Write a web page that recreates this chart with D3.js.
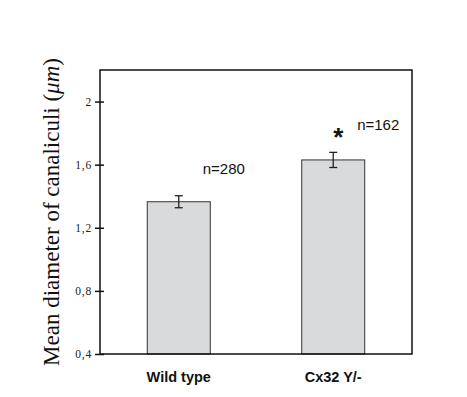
<!DOCTYPE html>
<html>
<head>
<meta charset="utf-8">
<script src="https://cdn.jsdelivr.net/npm/d3@7"></script>
<style>
  body { margin: 0; background: #fff; }
  svg { display: block; }
</style>
</head>
<body>
<div class="container"></div>
<script>
var width = 467;
var height = 397;

// chart data
var categories = ["Wild type", "Cx32 Y/-"];
var means = [1.365, 1.63];
var errors = [0.038, 0.048];
var counts = ["n=280", "n=162"];
var yTicks = [0.4, 0.8, 1.2, 1.6, 2];
var yTickLabels = ["0,4", "0,8", "1,2", "1,6", "2"];

var plotLeft = 100, plotRight = 412, plotTop = 70, plotBottom = 354;

function init() {
    var svg = d3.select(".container").append("svg")
        .attr("width", width)
        .attr("height", height);

    var x = d3.scaleBand()
        .domain(categories)
        .range([plotLeft, plotRight])
        .paddingInner(0.592)
        .paddingOuter(0.306);

    var y = d3.scaleLinear()
        .domain([0.4, 2.2])
        .range([plotBottom, plotTop]);

    var data = categories.map(function (c, i) {
        return {cat: c, mean: means[i], err: errors[i], n: counts[i]};
    });

    // bars
    svg.selectAll("rect.bar")
        .data(data)
        .enter()
        .append("rect")
        .classed("bar", true)
        .attr("x", function (d) { return x(d.cat); })
        .attr("y", function (d) { return y(d.mean); })
        .attr("width", x.bandwidth())
        .attr("height", function (d) { return y(0.4) - y(d.mean); })
        .attr("fill", "#d9dadc")
        .attr("stroke", "#333")
        .attr("stroke-width", 1);

    // error bars
    var eb = svg.selectAll("g.err")
        .data(data)
        .enter()
        .append("g")
        .classed("err", true)
        .attr("stroke", "#222")
        .attr("stroke-width", 1.3);
    eb.append("line")
        .attr("x1", function (d) { return x(d.cat) + x.bandwidth() / 2; })
        .attr("x2", function (d) { return x(d.cat) + x.bandwidth() / 2; })
        .attr("y1", function (d) { return y(d.mean + d.err); })
        .attr("y2", function (d) { return y(d.mean - d.err); });
    [1, -1].forEach(function (s) {
        eb.append("line")
            .attr("x1", function (d) { return x(d.cat) + x.bandwidth() / 2 - 4; })
            .attr("x2", function (d) { return x(d.cat) + x.bandwidth() / 2 + 4; })
            .attr("y1", function (d) { return y(d.mean + s * d.err); })
            .attr("y2", function (d) { return y(d.mean + s * d.err); });
    });

    // frame box
    svg.append("rect")
        .attr("x", plotLeft)
        .attr("y", plotTop)
        .attr("width", plotRight - plotLeft)
        .attr("height", plotBottom - plotTop)
        .attr("fill", "none")
        .attr("stroke", "#111")
        .attr("stroke-width", 1.5);

    // y axis
    var yAxis = d3.axisLeft(y)
        .tickValues(yTicks)
        .tickSize(0)
        .tickPadding(8)
        .tickFormat(function (d, i) { return yTickLabels[i]; });
    var ya = svg.append("g")
        .attr("transform", "translate(" + plotLeft + ",0)")
        .call(yAxis);
    ya.select(".domain").remove();
    ya.selectAll(".tick text")
        .attr("font-family", "'Liberation Serif', 'Times New Roman', serif")
        .attr("font-size", 11.5)
        .attr("letter-spacing", 0.8)
        .attr("fill", "#222");
    ya.selectAll(".tick").append("line")
        .attr("x1", -5)
        .attr("x2", 4)
        .attr("stroke", "#111")
        .attr("stroke-width", 1.5);

    // x labels
    svg.selectAll("text.xlab")
        .data(data)
        .enter()
        .append("text")
        .classed("xlab", true)
        .attr("x", function (d) { return x(d.cat) + x.bandwidth() / 2; })
        .attr("y", 382)
        .attr("text-anchor", "middle")
        .attr("font-family", "'Liberation Sans', Arial, sans-serif")
        .attr("font-weight", "bold")
        .attr("font-size", 14.5)
        .attr("fill", "#111")
        .text(function (d) { return d.cat; });

    // n labels
    svg.selectAll("text.nlab")
        .data(data)
        .enter()
        .append("text")
        .classed("nlab", true)
        .attr("x", function (d) { return x(d.cat) + x.bandwidth() / 2 + 45; })
        .attr("y", function (d) { return y(d.mean + d.err) - 22; })
        .attr("text-anchor", "middle")
        .attr("font-family", "'Liberation Sans', Arial, sans-serif")
        .attr("font-size", 15)
        .attr("fill", "#111")
        .text(function (d) { return d.n; });

    // significance star
    svg.append("text")
        .attr("x", x(categories[1]) + x.bandwidth() / 2 + 5)
        .attr("y", y(means[1] + errors[1]) - 6)
        .attr("text-anchor", "middle")
        .attr("font-family", "'Liberation Sans', Arial, sans-serif")
        .attr("font-weight", "bold")
        .attr("font-size", 26)
        .attr("fill", "#111")
        .text("*");

    // y title
    var title = svg.append("text")
        .attr("transform", "translate(59," + ((plotTop + plotBottom) / 2) + ") rotate(-90)")
        .attr("text-anchor", "middle")
        .attr("font-family", "'Liberation Serif', 'Times New Roman', serif")
        .attr("font-size", 23)
        .attr("fill", "#111");
    title.append("tspan").text("Mean diameter of canaliculi (");
    title.append("tspan").attr("font-style", "italic").text("\u03bcm");
    title.append("tspan").text(")");
}

init();
</script>
</body>
</html>
